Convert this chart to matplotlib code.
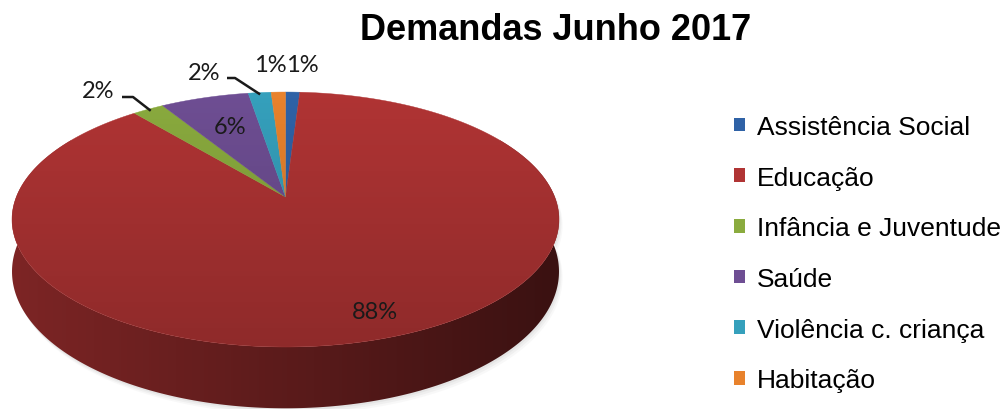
import numpy as np
import matplotlib
matplotlib.use("Agg")
import matplotlib.pyplot as plt
from matplotlib.patches import Polygon, Patch
from matplotlib.colors import to_rgb

# ---------------- data ----------------
title = "Demandas Junho 2017"
categories = ["Assistência Social", "Educação", "Infância e Juventude",
              "Saúde", "Violência c. criança", "Habitação"]
values = [1.0, 88.0, 2.2, 6.2, 1.6, 1.0]
colors = ["#2F62A6", "#B03434", "#8AAB3E", "#6E4E93", "#35A0BC", "#E8822C"]

# ---------------- layout ----------------
W, H = 1004, 410
CX, CY = 285.5, 198.0       # apex of the pie (pixels)
A, B, P = 269.2, 123.5, 0.1765   # radii and perspective factor
DEPTH = 50.5
LABEL_FONT = ["Lato", "DejaVu Sans"]
# label text positions (pixels) and optional leader elbow points
label_layout = [((302, 65), None),
                ((375, 313), None),
                ((98, 92), ((122, 98), (133, 98))),
                ((230, 128), None),
                ((204, 73), ((227, 79), (235, 79))),
                ((270, 65), None)]

fig = plt.figure(figsize=(W / 100, H / 100), dpi=100)
ax = fig.add_axes([0, 0, 1, 1])
ax.set_xlim(0, W)
ax.set_ylim(H, 0)
ax.axis("off")


def proj(phi_deg, r=1.0, drop=0.0):
    phi = np.radians(phi_deg)
    x = r * np.sin(phi)
    z = r * np.cos(phi)
    s = 1.0 / (1.0 + P * z)
    return CX + A * x * s, CY - B * z * s + drop * s


total = sum(values)
angles = np.concatenate([[0], np.cumsum(np.array(values) / total * 360.0)])

# ---------------- shadow ----------------
phis = np.linspace(60, 300, 300)
tu, tv = proj(phis)
bu, bv = proj(phis[::-1], drop=DEPTH)
side_pts = np.column_stack([np.concatenate([tu, bu]), np.concatenate([tv, bv])])
for k, al in [(6, 0.05), (4, 0.07), (2, 0.09)]:
    ax.add_patch(Polygon(side_pts + np.array([k * 0.6, k]), closed=True,
                         facecolor="#808080", edgecolor="none", alpha=al, zorder=1))

# ---------------- side (only the big red slice is visible in front) ----------------
red = np.array(to_rgb(colors[1]))
xs = np.linspace(0, 1, 256)
fac = 0.71 + (0.33 - 0.71) * xs
side_img = (red[None, :] * fac[:, None])[None, :, :]
side_poly = Polygon(side_pts, closed=True, facecolor="none", edgecolor="none")
ax.add_patch(side_poly)
left_x, right_x = CX - A / np.sqrt(1 - P ** 2), CX + A / np.sqrt(1 - P ** 2)
im = ax.imshow(side_img, extent=(left_x, right_x, 420, 90), aspect="auto",
               interpolation="bilinear", zorder=2)
im.set_clip_path(side_poly)

# ---------------- top face ----------------
full = np.linspace(0, 360, 721)
fu, fv = proj(full)
top_poly = Polygon(np.column_stack([fu, fv]), closed=True, facecolor="none",
                   edgecolor="none")
ax.add_patch(top_poly)
for i, c in enumerate(colors):
    a0, a1 = angles[i], angles[i + 1]
    ph = np.linspace(a0, a1, max(4, int((a1 - a0) * 2)))
    u, v = proj(ph)
    pts = np.column_stack([np.concatenate([[CX], u]), np.concatenate([[CY], v])])
    ax.add_patch(Polygon(pts, closed=True, facecolor=c, edgecolor=c,
                         linewidth=0.3, zorder=3))

top_y, bot_y = fv.min(), fv.max()
shade = np.zeros((256, 1, 4))
shade[:, 0, 3] = np.linspace(0.0, 0.19, 256)
im2 = ax.imshow(shade, extent=(left_x, right_x, bot_y, top_y), aspect="auto",
                interpolation="bilinear", zorder=4)
im2.set_clip_path(top_poly)

# ---------------- labels ----------------
for i, v in enumerate(values):
    (tx, ty), leader = label_layout[i]
    ax.text(tx, ty, f"{round(v / total * 100)}%", ha="center", va="center",
            fontsize=17, family=LABEL_FONT, color="#1a1a1a", zorder=6)
    if leader is not None:
        mid = (angles[i] + angles[i + 1]) / 2
        ex, ey = proj(mid, r=0.98)
        (x0, y0), (x1, y1) = leader
        ax.plot([x0, x1, ex], [y0, y1, ey], color="#1a1a1a", lw=1.8,
                solid_capstyle="butt", zorder=6)

# ---------------- title & legend ----------------
fig.text(556 / W, 1 - 31 / H, title, ha="center", va="center", fontsize=26,
         fontweight="bold", family="Liberation Sans", color="#000000")

handles = [Patch(facecolor=c, edgecolor="none") for c in colors]
fig.legend(handles, categories, loc="upper left",
           bbox_to_anchor=(734 / W, 1 - 116 / H), frameon=False,
           prop={"family": "Liberation Sans", "size": 19},
           handlelength=0.42, handleheight=0.42, handletextpad=0.45,
           labelspacing=1.01, borderpad=0, borderaxespad=0)

fig.savefig("out.png", dpi=100)
